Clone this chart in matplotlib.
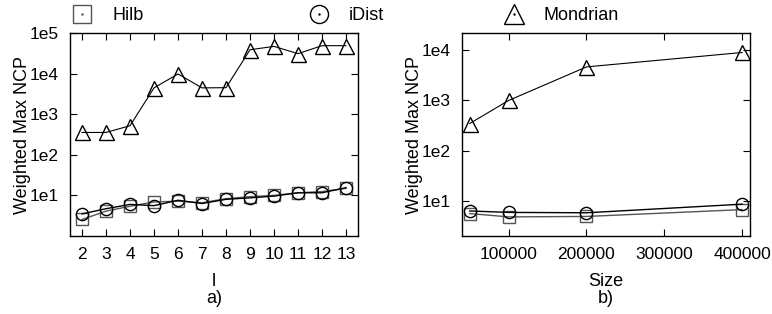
import numpy as np
import matplotlib
matplotlib.use("Agg")
import matplotlib.pyplot as plt
from matplotlib.lines import Line2D
from matplotlib.ticker import FixedLocator, NullLocator, FixedFormatter

plt.rcParams['font.family'] = ['Liberation Sans', 'DejaVu Sans']
plt.rcParams['font.size'] = 12.5

# panel a) : varying l
l_vals = [2, 3, 4, 5, 6, 7, 8, 9, 10, 11, 12, 13]
hilb_l = [2.55, 4.1, 5.4, 6.9, 7.2, 6.6, 8.3, 9.3, 10.0, 11.6, 12.4, 14.9]
idist_l = [3.5, 4.7, 6.0, 5.6, 7.6, 6.3, 8.0, 8.7, 9.6, 11.6, 11.6, 15.5]
mond_l = [355, 355, 520, 4450, 9800, 4450, 4500, 38700, 46800, 31000, 48700, 48700]

# panel b) : varying size
sizes = [50000, 100000, 200000, 400000]
hilb_s = [5.6, 4.8, 4.9, 6.7]
idist_s = [6.3, 5.9, 5.8, 8.6]
mond_s = [347, 1000, 4650, 9000]

ytick_vals = [1e1, 1e2, 1e3, 1e4, 1e5]
ytick_labels = ['1e1', '1e2', '1e3', '1e4', '1e5']

gray = '#555555'
ms = 8.8

fig = plt.figure(figsize=(7.72, 3.14), dpi=100)
ax1 = fig.add_axes([0.0907, 0.2484, 0.373, 0.6465])
ax2 = fig.add_axes([0.5984, 0.2484, 0.373, 0.6465])


def draw(ax, x, h, d, m):
    ax.plot(x, h, color=gray, lw=1, marker='s', ms=ms, mfc='none', mec=gray, mew=1)
    ax.plot(x, d, color='black', lw=1, marker='o', ms=ms, mfc='none', mec='black', mew=1)
    ax.plot(x, m, color='black', lw=0.8, marker='^', ms=ms + 2, mfc='none', mec='black', mew=1)


def style(ax):
    ax.set_yscale('log')
    ax.tick_params(direction='in', top=True, right=True, length=5, width=0.8, labelsize=12.5, pad=8)
    ax.tick_params(which='minor', left=False, right=False)
    for s in ax.spines.values():
        s.set_linewidth(1)
    ax.set_ylabel('Weighted Max NCP', fontsize=13, labelpad=-1)


draw(ax1, l_vals, hilb_l, idist_l, mond_l)
style(ax1)
ax1.set_xlim(1.5, 13.5)
ax1.set_ylim(1.0, 1e5)
ax1.set_xticks(l_vals)
ax1.yaxis.set_major_locator(FixedLocator(ytick_vals))
ax1.yaxis.set_major_formatter(FixedFormatter(ytick_labels))
ax1.yaxis.set_minor_locator(NullLocator())
ax1.set_xlabel('l\na)', fontsize=13, labelpad=8, linespacing=0.95)

draw(ax2, sizes, hilb_s, idist_s, mond_s)
style(ax2)
ax2.set_xlim(40000, 410000)
ax2.set_ylim(2.0, 2.2e4)
ax2.set_xticks([100000, 200000, 300000, 400000])
ax2.set_xticklabels(['100000', '200000', '300000', '400000'])
ax2.yaxis.set_major_locator(FixedLocator(ytick_vals[:4]))
ax2.yaxis.set_major_formatter(FixedFormatter(ytick_labels[:4]))
ax2.yaxis.set_minor_locator(NullLocator())
ax2.set_xlabel('Size\nb)', fontsize=13, labelpad=8, linespacing=0.95)

# legend entries across the top
entries = [('Hilb', 's', gray, 0.089), ('iDist', 'o', 'black', 0.396), ('Mondrian', '^', 'black', 0.648)]
for name, mk, col, xpos in entries:
    h = (Line2D([], [], ls='none', marker=mk, ms=13 if mk != '^' else 15, mfc='none', mec=col, mew=1),
         Line2D([], [], ls='none', marker='.', ms=1.5, color=col))
    fig.legend([h], [name], loc='center left', bbox_to_anchor=(xpos, 0.95), frameon=False,
               fontsize=13, handlelength=1.5, handletextpad=0.9, borderpad=0, borderaxespad=0)

fig.savefig('out.png', dpi=100)
